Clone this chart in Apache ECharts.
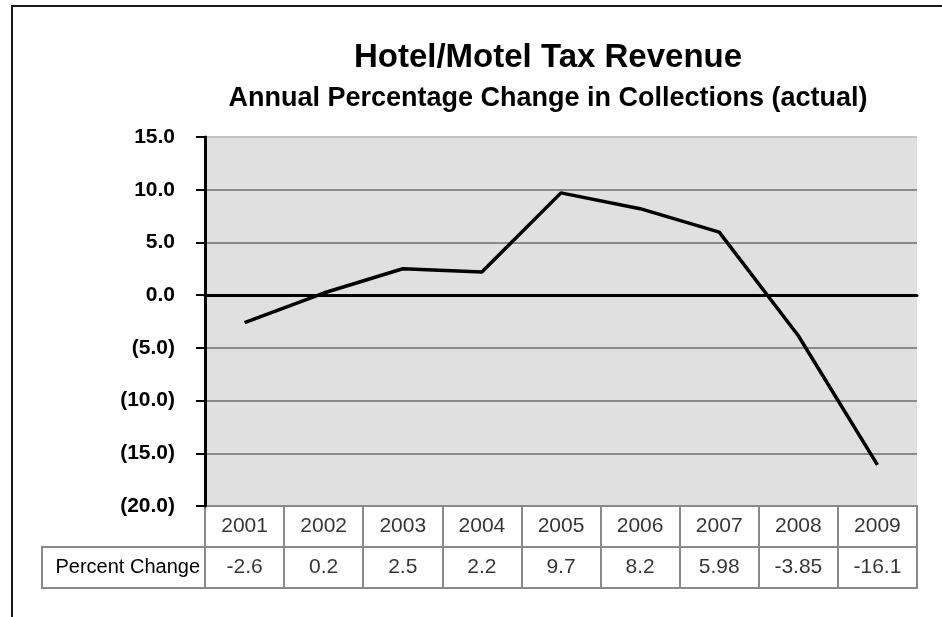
<!DOCTYPE html>
<html>
<head>
<meta charset="utf-8">
<script src="https://cdn.jsdelivr.net/npm/echarts@6/dist/echarts.min.js"></script>
<style>
html,body{margin:0;padding:0;background:#fff;}
#c{width:942px;height:617px;}
</style>
</head>
<body>
<div id="c"></div>
<script>
var years = ['2001','2002','2003','2004','2005','2006','2007','2008','2009'];
var percentChange = [-2.6, 0.2, 2.5, 2.2, 9.7, 8.2, 5.98, -3.85, -16.1];
var rowLabels = ['', 'Percent Change'];
var titleText = 'Hotel/Motel Tax Revenue';
var subtitleText = 'Annual Percentage Change in Collections (actual)';
var yMin = -20, yMax = 15, yStep = 5;

var FONT = "'Liberation Sans', Arial, sans-serif";
var chart = echarts.init(document.getElementById('c'), null, {renderer: 'canvas'});

var yearCells = years.map(function (y, i) { return {value: [i, 0], label: {formatter: y}}; });
var valueCells = percentChange.map(function (v, i) { return {value: [i, 1], label: {formatter: String(v)}}; });

var option = {
  backgroundColor: '#ffffff',
  animation: false,
  title: [
    {text: titleText, left: 543, top: 36, textAlign: 'center',
     textStyle: {fontFamily: FONT, fontSize: 33, fontWeight: 'bold', color: '#000'}},
    {text: subtitleText, left: 543, top: 80, textAlign: 'center',
     textStyle: {fontFamily: FONT, fontSize: 27, fontWeight: 'bold', color: '#000'}}
  ],
  graphic: [
    {type: 'polyline', shape: {points: [[12, 640], [12, 6], [950, 6]]},
     style: {stroke: '#1a1a1a', lineWidth: 2, fill: null}, silent: true},
    {type: 'rect', shape: {x: 42, y: 547, width: 163, height: 41},
     style: {stroke: '#8a8a8a', lineWidth: 2, fill: null}, silent: true}
  ],
  grid: [
    {left: 205, right: 25, top: 137, bottom: 111, show: true, backgroundColor: '#e0e0e0', borderWidth: 0},
    {left: 205, right: 25, top: 506, bottom: 29, show: true, backgroundColor: '#ffffff', borderColor: '#8a8a8a', borderWidth: 2}
  ],
  xAxis: [
    {gridIndex: 0, type: 'category', data: years, boundaryGap: true,
     axisLine: {show: true, onZero: true, lineStyle: {color: '#000', width: 3}},
     axisTick: {show: false}, axisLabel: {show: false}, splitLine: {show: false}},
    {gridIndex: 1, type: 'category', data: years, boundaryGap: true,
     axisLine: {show: false}, axisTick: {show: false}, axisLabel: {show: false},
     splitLine: {show: true, lineStyle: {color: '#8a8a8a', width: 2}}}
  ],
  yAxis: [
    {gridIndex: 0, type: 'value', min: yMin, max: yMax, interval: yStep,
     axisLine: {show: true, lineStyle: {color: '#000', width: 3}},
     axisTick: {show: true, length: 9, inside: false, lineStyle: {color: '#000', width: 2}},
     axisLabel: {margin: 30, fontFamily: FONT, fontSize: 21, fontWeight: 'bold', color: '#000',
       formatter: function (v) { return v < 0 ? '(' + Math.abs(v).toFixed(1) + ')' : v.toFixed(1); }},
     splitLine: {show: true, lineStyle: {color: ['#8a8a8a','#8a8a8a','#8a8a8a','#8a8a8a','#8a8a8a','#8a8a8a','#8a8a8a','#c4c4c4'], width: 2}}},
    {gridIndex: 1, type: 'category', data: rowLabels, inverse: true, boundaryGap: true,
     axisLine: {show: false}, axisTick: {show: false},
     axisLabel: {margin: 5, fontFamily: FONT, fontSize: 20, color: '#000'},
     splitLine: {show: true, lineStyle: {color: '#8a8a8a', width: 2}}}
  ],
  series: [
    {type: 'line', xAxisIndex: 0, yAxisIndex: 0, data: percentChange, showSymbol: false, symbol: 'none',
     lineStyle: {color: '#000', width: 3.5}, z: 5},
    {type: 'scatter', xAxisIndex: 1, yAxisIndex: 1, data: yearCells.concat(valueCells), symbolSize: 2,
     itemStyle: {color: 'rgba(255,255,255,0)'},
     label: {show: true, position: 'inside', fontFamily: FONT, fontSize: 21, color: '#000'}}
  ]
};
chart.setOption(option);
</script>
</body>
</html>
